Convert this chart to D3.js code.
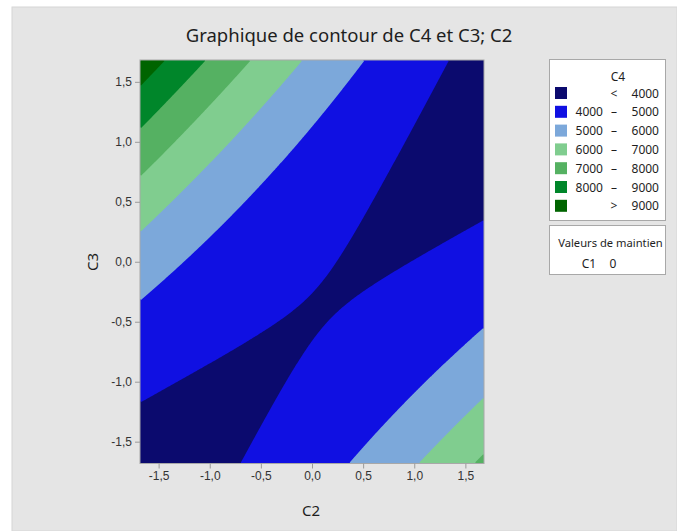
<!DOCTYPE html>
<html lang="fr">
<head>
<meta charset="utf-8">
<title>Graphique de contour</title>
<script src="https://d3js.org/d3.v7.min.js"></script>
<style>
  body { margin: 0; background: #fff; font-family: "Noto Sans", "Open Sans", sans-serif; }
  svg text { fill: #1e1e1e; }
  .axis path, .axis line { stroke: #9a9a9a; }
  .axis text { font-size: 12px; fill: #333; }
</style>
</head>
<body>
<svg id="chart" width="677" height="531"></svg>
<script>

// fitted model of C4 (C1 held at 0), coded units
const terms = ["const", "C2", "C3", "C2*C2", "C3*C3", "C2*C3"]
const coefs = [4070, -364, 372, 302, 403, -838]

const levels = [4000, 5000, 6000, 7000, 8000, 9000]
const bandColors = ["#0b0a6e", "#1010e2", "#7ca8da", "#80cd8f", "#55b162", "#00862a", "#006400"]
const legendLo = ["", "4000", "5000", "6000", "7000", "8000", ""]
const legendSep = ["<", "–", "–", "–", "–", "–", ">"]
const legendHi = ["4000", "5000", "6000", "7000", "8000", "9000", "9000"]
const xTicks = [-1.5, -1.0, -0.5, 0.0, 0.5, 1.0, 1.5]
const yTicks = [-1.5, -1.0, -0.5, 0.0, 0.5, 1.0, 1.5]
const alpha = 1.682

function model(a, b) {
  return coefs[0] + coefs[1] * a + coefs[2] * b + coefs[3] * a * a + coefs[4] * b * b + coefs[5] * a * b
}

const svg = d3.select("#chart")
svg.append("rect").attr("x", 12).attr("y", 7).attr("width", 665).attr("height", 524)
  .attr("fill", "#e5e5e5").attr("stroke", "#d6d6d6")

const x = d3.scaleLinear().domain([-alpha, alpha]).range([140, 484])
const y = d3.scaleLinear().domain([-alpha, alpha]).range([463.5, 60])

// grid of model values
const nx = 172, ny = 202
const gx = d3.scaleLinear().domain([0, nx]).range([-alpha, alpha])
const gy = d3.scaleLinear().domain([0, ny]).range([alpha, -alpha])
const values = new Array(nx * ny)
for (let j = 0; j < ny; j++) {
  for (let i = 0; i < nx; i++) {
    values[j * nx + i] = model(gx(i + 0.5), gy(j + 0.5))
  }
}
const contours = d3.contours().size([nx, ny]).thresholds(levels)(values)
const path = d3.geoPath(d3.geoTransform({
  point: function(px, py) { this.stream.point(x(gx(px)), y(gy(py))) }
}))

svg.append("clipPath").attr("id", "clip").append("rect")
  .attr("x", x(-alpha)).attr("y", y(alpha)).attr("width", x(alpha) - x(-alpha)).attr("height", y(-alpha) - y(alpha))

const plot = svg.append("g").attr("clip-path", "url(#clip)")
plot.append("rect")
  .attr("x", x(-alpha)).attr("y", y(alpha)).attr("width", x(alpha) - x(-alpha)).attr("height", y(-alpha) - y(alpha))
  .attr("fill", bandColors[0])
plot.selectAll("path.band").data(contours).join("path")
  .attr("class", "band")
  .attr("d", path)
  .attr("fill", (d, i) => bandColors[i + 1])

svg.append("rect")
  .attr("x", x(-alpha)).attr("y", y(alpha)).attr("width", x(alpha) - x(-alpha)).attr("height", y(-alpha) - y(alpha))
  .attr("fill", "none").attr("stroke", "#a8a8a8")

const fr = d3.formatLocale({ decimal: ",", thousands: " ", grouping: [3], currency: ["", ""], minus: "-" })
const fmt = fr.format(".1f")

svg.append("g").attr("class", "axis").attr("transform", "translate(0," + y(-alpha) + ")")
  .call(d3.axisBottom(x).tickValues(xTicks).tickFormat(fmt).tickSize(5).tickSizeOuter(0))
  .call(g => g.select(".domain").remove())
svg.append("g").attr("class", "axis").attr("transform", "translate(" + x(-alpha) + ",0)")
  .call(d3.axisLeft(y).tickValues(yTicks).tickFormat(fmt).tickSize(5).tickSizeOuter(0))
  .call(g => g.select(".domain").remove())

svg.append("text").attr("x", 349).attr("y", 42).attr("text-anchor", "middle")
  .style("font-size", "18.5px").text("Graphique de contour de C4 et C3; C2")
svg.append("text").attr("x", 311).attr("y", 516).attr("text-anchor", "middle")
  .style("font-size", "15px").text("C2")
svg.append("text").attr("transform", "translate(98,262) rotate(-90)").attr("text-anchor", "middle")
  .style("font-size", "15px").text("C3")

// legend
const lg = svg.append("g")
lg.append("rect").attr("x", 549.5).attr("y", 59.5).attr("width", 116).attr("height", 161)
  .attr("fill", "#fff").attr("stroke", "#a8a8a8")
lg.append("text").attr("x", 618).attr("y", 81).attr("text-anchor", "middle").style("font-size", "12px").text("C4")
const rows = lg.selectAll("g.row").data(bandColors).join("g")
  .attr("class", "row")
  .attr("transform", (d, i) => "translate(0," + (93 + i * 18.8) + ")")
rows.append("rect").attr("x", 555).attr("y", -6).attr("width", 12).attr("height", 12).attr("fill", d => d)
rows.append("text").attr("x", 603).attr("y", 4.5).attr("text-anchor", "end").style("font-size", "12px")
  .text((d, i) => legendLo[i])
rows.append("text").attr("x", 614).attr("y", 4.5).attr("text-anchor", "middle").style("font-size", "12px")
  .text((d, i) => legendSep[i])
rows.append("text").attr("x", 659).attr("y", 4.5).attr("text-anchor", "end").style("font-size", "12px")
  .text((d, i) => legendHi[i])

lg.append("rect").attr("x", 549.5).attr("y", 225.5).attr("width", 116).attr("height", 49)
  .attr("fill", "#fff").attr("stroke", "#a8a8a8")
lg.append("text").attr("x", 610.5).attr("y", 247).attr("text-anchor", "middle").style("font-size", "11.2px").text("Valeurs de maintien")
lg.append("text").attr("x", 589).attr("y", 268).attr("text-anchor", "middle").style("font-size", "12px").text("C1")
lg.append("text").attr("x", 613).attr("y", 268).attr("text-anchor", "middle").style("font-size", "12px").text("0")

</script>
</body>
</html>
